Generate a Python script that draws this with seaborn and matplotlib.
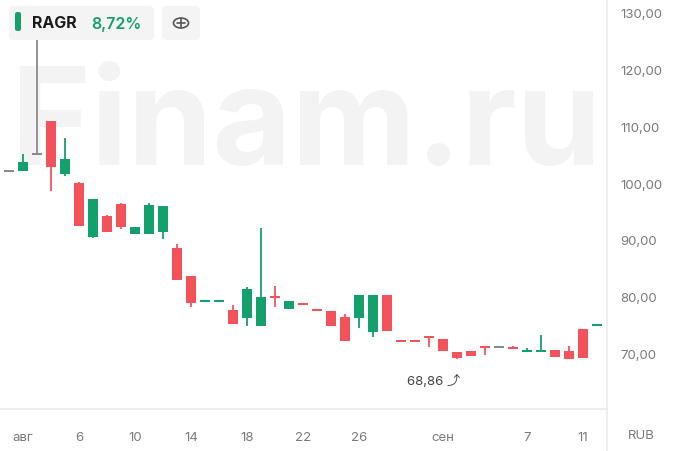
"""Candlestick chart of RAGR, Finam style."""

import matplotlib
matplotlib.use("Agg")
import matplotlib.pyplot as plt
from matplotlib.patches import FancyBboxPatch, Circle
import pandas as pd
import seaborn as sns

# day index (0 = last day of July), OHLC values
days = list(range(44))
opens = [103.9, 102.1, 102.1, 105.1, 110.9, 101.6, 100.0, 90.4, 94.2, 96.3,
         91.0, 91.0, 91.4, 88.5, 83.6, 79.0, 79.0, 77.6, 76.1, 74.8,
         79.9, 77.8, 78.6, 77.7, 77.5, 76.3, 76.2, 73.7, 80.3, 72.2,
         72.2, 72.9, 72.5, 70.2, 70.4, 71.1, 71.1, 70.85, 70.1, 70.2,
         70.6, 70.4, 74.2, 74.75]
highs = [104.2, 102.1, 105.1, 128.0, 111.0, 108.0, 100.1, 97.2, 94.3, 96.4,
         92.2, 96.4, 96.0, 89.2, 83.6, 79.1, 79.1, 78.4, 81.6, 92.0,
         81.9, 79.2, 78.6, 77.7, 77.5, 76.9, 80.3, 80.3, 80.3, 72.3,
         72.2, 72.9, 72.5, 70.2, 70.4, 71.1, 71.1, 71.2, 70.8, 73.2,
         70.6, 71.3, 74.2, 74.85]
lows = [101.8, 102.1, 102.1, 104.9, 98.6, 101.2, 92.4, 90.3, 91.4, 91.8,
        91.0, 91.0, 90.1, 82.9, 78.1, 79.0, 79.0, 75.1, 74.8, 74.8,
        78.1, 77.8, 78.4, 77.5, 74.8, 72.2, 74.5, 72.9, 73.9, 72.0,
        72.0, 71.1, 70.4, 68.86, 69.4, 69.6, 71.1, 70.7, 70.1, 70.2,
        69.25, 69.0, 69.1, 74.75]
closes = [102.1, 102.1, 103.7, 105.1, 102.8, 104.2, 92.4, 97.1, 91.4, 92.2,
          92.2, 96.1, 96.0, 82.9, 78.8, 79.1, 79.1, 75.1, 81.3, 79.8,
          79.7, 79.2, 78.4, 77.5, 74.8, 72.2, 80.3, 80.3, 73.9, 72.0,
          72.0, 72.7, 70.4, 69.1, 69.4, 70.95, 71.1, 70.7, 70.4, 70.6,
          69.25, 69.0, 69.1, 74.85]

tick_days = [2, 6, 10, 14, 18, 22, 26, 32, 38, 42]
tick_labels = ["авг", "6", "10", "14", "18", "22", "26", "сен", "7", "11"]
price_ticks = [70, 80, 90, 100, 110, 120, 130]

ticker = "RAGR"
change_label = "8,72%"
low_label = "68,86"

GREEN = "#14a06c"
RED = "#f4525a"
GRAY = "#8a8a8a"
TEXT = "#7a7a7a"
LINE = "#ebebeb"
FAMILIES = ["Inter", "DejaVu Sans", "Noto Sans", "Noto Sans CJK JP",
            "Liberation Sans", "Roboto", "Open Sans", "Lato"]

W, H = 678, 452


def fx(px):
    return px / W


def fy(py):
    return 1 - py / H


sns.set_theme(style="white")
plt.rcParams["font.family"] = ["Inter", "DejaVu Sans"]

df = pd.DataFrame({"day": days, "open": opens, "high": highs,
                   "low": lows, "close": closes})
df["body"] = (df["close"] - df["open"]).abs().clip(lower=0.35)
df["bottom"] = df[["open", "close"]].min(axis=1)
df.loc[df["close"] == df["open"], "bottom"] -= 0.175
df["color"] = [GREEN if c > o else (RED if c < o else GRAY)
               for o, c in zip(df["open"], df["close"])]

fig = plt.figure(figsize=(W / 100, H / 100), dpi=100)
ax = fig.add_axes([0, fy(410), fx(607), 410 / H])

# faint watermark
ax.text(0.505, 0.598, "Finam.ru", transform=ax.transAxes, ha="center",
        va="baseline", fontsize=98, fontweight="bold", color="#f3f3f3",
        zorder=0, clip_on=True)

ax.vlines(df["day"], df["low"], df["high"], colors=df["color"],
          linewidth=1.3, zorder=2)
ax.bar(df["day"], df["body"], bottom=df["bottom"], width=0.74,
       color=df["color"], linewidth=0, zorder=3)

ax.set_xlim(0.36, 43.7)
ax.set_ylim(60.12, 132.47)

ax.yaxis.tick_right()
ax.set_yticks(price_ticks)
ax.set_yticklabels([f"{v},00" for v in price_ticks])
ax.set_xticks(tick_days)
ax.set_xticklabels(tick_labels)
ax.tick_params(axis="y", length=0, pad=9.5, labelsize=9.5, labelcolor=TEXT)
ax.tick_params(axis="x", length=0, pad=15.5, labelsize=9.5, labelcolor=TEXT)
for side in ["top", "left"]:
    ax.spines[side].set_visible(False)
ax.spines["bottom"].set_color(LINE)
ax.spines["right"].set_visible(False)
fig.add_artist(plt.Line2D([fx(607), fx(607)], [0, 1], color=LINE,
                          linewidth=1.2, transform=fig.transFigure))
fig.text(fx(641), fy(436), "RUB", ha="center", va="center",
         fontsize=9.5, color=TEXT)

# lowest price note
min_i = df["low"].idxmin()
ax.annotate(f"{low_label} \u2934", (df.loc[min_i, "day"], df.loc[min_i, "low"]),
            xytext=(-17, -15), textcoords="offset points", ha="center",
            va="center", fontsize=9.5, color="#444444", family=FAMILIES)

# legend chip
chip = FancyBboxPatch((fx(9), fy(41)), fx(145), 34 / H,
                      boxstyle="round,pad=0,rounding_size=0.008",
                      transform=fig.transFigure, facecolor="#f4f4f4",
                      edgecolor="none", zorder=10)
fig.add_artist(chip)
plus_box = FancyBboxPatch((fx(162), fy(41)), fx(38), 34 / H,
                          boxstyle="round,pad=0,rounding_size=0.008",
                          transform=fig.transFigure, facecolor="#f4f4f4",
                          edgecolor="none", zorder=10)
fig.add_artist(plus_box)
pill = FancyBboxPatch((fx(15), fy(32)), fx(6), 19 / H,
                      boxstyle="round,pad=0,rounding_size=0.004",
                      transform=fig.transFigure, facecolor=GREEN,
                      edgecolor="none", zorder=11)
fig.add_artist(pill)
fig.text(fx(32), fy(24), ticker, ha="left", va="center", fontsize=11.5,
         fontweight="bold", color="#1a1a1a", zorder=12)
fig.text(fx(91), fy(24), change_label, ha="left", va="center", fontsize=11.5,
         fontweight="semibold", color=GREEN, zorder=12)
fig.add_artist(Circle((fx(181), fy(24)), 7.5 / W, transform=fig.transFigure,
                      facecolor="none", edgecolor="#555555", linewidth=1.2,
                      zorder=12))
fig.add_artist(plt.Line2D([fx(177), fx(185)], [fy(24), fy(24)],
                          color="#555555", linewidth=1.2, zorder=12))
fig.add_artist(plt.Line2D([fx(181), fx(181)], [fy(20), fy(28)],
                          color="#555555", linewidth=1.2, zorder=12))

fig.savefig("out.png", dpi=100)
plt.close(fig)
